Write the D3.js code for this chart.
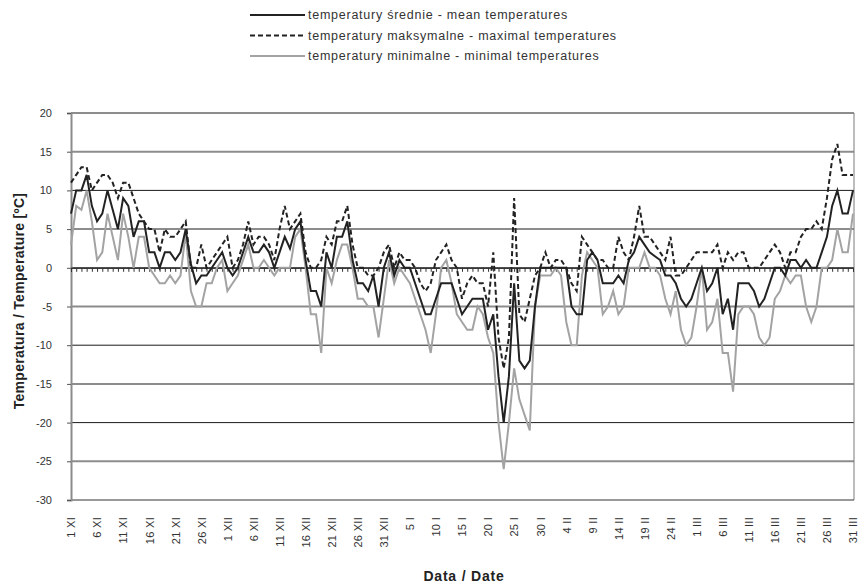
<!DOCTYPE html>
<html>
<head>
<meta charset="utf-8">
<script src="https://cdn.jsdelivr.net/npm/d3@7"></script>
<style>
  body { margin: 0; background: #fff; }
  svg { font-family: "Liberation Sans", Arial, sans-serif; }
</style>
</head>
<body>
<svg width="861" height="584"></svg>
<script>
// daily values, 1 XI .. 31 III (151 days)
const meanTemps = [
  7, 10, 10, 12, 8, 6, 7, 10, 7.5, 5,
  9, 8, 4, 6, 6, 2, 2, 0, 2, 2,
  1, 2, 5, 0.5, -2, -1, -1, 0, 1, 2,
  0, -1, 0, 2, 4, 2, 2, 3, 2, 0,
  2, 4, 2.5, 5, 6, 1, -3, -3, -5, 2,
  0, 4, 4, 6, 1, -2, -2, -3, -1, -5,
  0, 2, -1, 1, 0, 0, -2, -4, -6, -6,
  -4, -2, -2, -2, -4, -6, -5, -4, -4, -4,
  -8, -6, -14, -20, -14, -2, -12, -13, -12, -5,
  0, 0, 0, 0, 0, 0, -5, -6, -6, 1,
  2, 1, -2, -2, -2, -1, -2, 1, 2, 4,
  3, 2, 1.5, 1, -1, -1, -2, -4, -5, -4,
  -2, 0, -3, -2, 0, -6, -4, -8, -2, -2,
  -2, -3, -5, -4, -2, 0, 0, -1, 1, 1,
  0, 1, 0, 0, 2, 4, 8, 10, 7, 7, 10
];
const maxTemps = [
  11, 12, 13, 13, 10, 11, 12, 12, 11, 9,
  11, 11, 9, 7, 6, 5, 5, 2, 5, 4,
  4, 5, 6, 0, 0, 3, 0, 1, 2, 3,
  4, 0, 1, 3, 6, 3, 4, 4, 3, 1,
  5, 8, 5, 6, 7, 2, 0, 0, 1, 4,
  3, 6, 6, 8, 3, 0, 0, -1, -1, 0,
  2, 3, 0, 2, 1, 1, 0, -2, -3, -2,
  1, 2, 3, 1, 0, -4, -2, -1, -2, -2,
  -5, 2, -9, -13, -9, 9, -6, -7, -4, -1,
  0, 2, 0, 1, 1, 0, -2, -3, 4, 3,
  2, 1, 1, 0, 0, 4, 2, 1, 4, 8,
  4, 4, 3, 2, 1, 4, -1, -1, 0, 1,
  2, 2, 2, 2, 3, 0, 2, 1, 2, 2,
  0, 0, 0, 1, 2, 3, 2, 0, 2, 2,
  4, 5, 5, 6, 5, 9, 14, 16, 12, 12, 12
];
const minTemps = [
  3, 8, 7.5, 10, 6, 1, 2, 7, 4, 1,
  7, 4, 0, 4, 4, 0, -1, -2, -2, -1,
  -2, -1, 4.5, -3, -5, -5, -2, -2, 0, 1,
  -3, -2, -1, 1, 3, 0, 0, 1, 0, -1,
  0, 0, 0, 4, 5, 0, -6, -6, -11, 0,
  -2, 1, 3, 3, 0, -4, -4, -5, -5, -9,
  -4, 1, -2, 0, -1, -2, -4, -6, -8, -11,
  -6, 0, 1, -2, -6, -7, -8, -8, -5, -6,
  -9, -11, -20, -26, -20, -13, -17, -19, -21, -5,
  -1, -1, -1, 0, -1, -7, -10, -10, -1, 2,
  1, 0, -6, -5, -3, -6, -5, 0, 0, 0,
  2, 0, 0, -1, -4, -6, -3, -8, -10, -9,
  -5, 0, -8, -7, -4, -11, -11, -16, -6, -5,
  -5, -6, -9, -10, -9, -4, -3, -1, -2, -1,
  -1, -5, -7, -5, 0, 0, 1, 5, 2, 2, 7
];
const dateLabels = ["1 XI", "6 XI", "11 XI", "16 XI", "21 XI", "26 XI", "1 XII", "6 XII",
  "11 XII", "16 XII", "21 XII", "26 XII", "31 XII", "5 I", "10 I", "15 I", "20 I", "25 I",
  "30 I", "4 II", "9 II", "14 II", "19 II", "24 II", "1 III", "6 III", "11 III", "16 III",
  "21 III", "26 III", "31 III"];
const yTicks = [20, 15, 10, 5, 0, -5, -10, -15, -20, -25, -30];
const legendNames = [
  "temperatury średnie - mean temperatures",
  "temperatury maksymalne - maximal temperatures",
  "temperatury minimalne - minimal temperatures"
];

const svg = d3.select("svg");
const plotLeft = 71, plotRight = 853, plotTop = 113, plotBottom = 500;

const x = d3.scaleLinear().domain([0, meanTemps.length - 1]).range([plotLeft, plotRight]);
const y = d3.scaleLinear().domain([-30, 20]).range([plotBottom, plotTop]);

// gridlines: black on tens, grey on fives
svg.append("g").selectAll("line")
  .data(yTicks.filter(d => d > -30))
  .join("line")
  .attr("x1", plotLeft).attr("x2", plotRight + 1)
  .attr("y1", d => y(d)).attr("y2", d => y(d))
  .attr("stroke", d => d % 10 === 0 ? "#1a1a1a" : "#8c8c8c")
  .attr("stroke-width", d => d % 10 === 0 ? 1 : 2);

// frame
svg.append("line").attr("x1", plotRight + 1).attr("x2", plotRight + 1).attr("y1", plotTop).attr("y2", plotBottom)
  .attr("stroke", "#7a7a7a").attr("stroke-width", 1);
svg.append("line").attr("x1", plotLeft).attr("x2", plotRight + 1).attr("y1", plotBottom).attr("y2", plotBottom)
  .attr("stroke", "#333").attr("stroke-width", 1);

// y axis (plain hyphen for minus, as in the original)
const yAxis = svg.append("g")
  .attr("transform", `translate(${plotLeft},0)`)
  .call(d3.axisLeft(y).tickValues(yTicks).tickSize(4).tickPadding(15).tickFormat(d => String(d)));
yAxis.select(".domain").attr("stroke", "#8c8c8c").attr("stroke-width", 2);
yAxis.selectAll(".tick line").attr("stroke", "#555");
yAxis.selectAll("text").attr("font-size", 11).attr("fill", "#333")
  .attr("font-family", "Liberation Sans, Arial, sans-serif");

// category ticks on zero line
const zeroAxis = svg.append("g")
  .attr("transform", `translate(0,${y(0)})`)
  .call(d3.axisBottom(x).tickValues(d3.range(meanTemps.length)).tickSize(4).tickFormat(""));
zeroAxis.select(".domain").attr("stroke", "#1a1a1a");
zeroAxis.selectAll(".tick line").attr("stroke", "#333");

// date labels below the plot
const labelAxis = svg.append("g")
  .attr("transform", `translate(0,${plotBottom})`)
  .call(d3.axisBottom(x).tickValues(d3.range(0, meanTemps.length, 5)).tickSize(0)
    .tickFormat((d, i) => dateLabels[i]));
labelAxis.select(".domain").remove();
labelAxis.selectAll("text")
  .attr("font-size", 11).attr("fill", "#333")
  .attr("font-family", "Liberation Sans, Arial, sans-serif")
  .attr("letter-spacing", 0.3)
  .attr("transform", "rotate(-90)")
  .attr("text-anchor", "end")
  .attr("x", -17).attr("y", 0).attr("dy", "0.35em");

// series
const series = [
  {values: minTemps, color: "#a3a3a3", dash: null, width: 2},
  {values: maxTemps, color: "#222", dash: "5,3", width: 2},
  {values: meanTemps, color: "#222", dash: null, width: 2}
];
const line = d3.line().x((d, i) => x(i)).y(d => y(d));
svg.append("g").selectAll("path")
  .data(series)
  .join("path")
  .attr("fill", "none")
  .attr("stroke", d => d.color)
  .attr("stroke-width", d => d.width)
  .attr("stroke-dasharray", d => d.dash)
  .attr("stroke-linejoin", "miter")
  .attr("d", d => line(d.values));

// legend
const legendStyles = [
  {color: "#222", dash: null, width: 2},
  {color: "#222", dash: "5,3", width: 2},
  {color: "#a3a3a3", dash: null, width: 2}
];
const legend = svg.append("g").selectAll("g")
  .data(legendNames)
  .join("g")
  .attr("transform", (d, i) => `translate(250,${15 + i * 20.5})`);
legend.append("line")
  .attr("x1", 0).attr("x2", 55)
  .attr("stroke", (d, i) => legendStyles[i].color)
  .attr("stroke-width", (d, i) => legendStyles[i].width)
  .attr("stroke-dasharray", (d, i) => legendStyles[i].dash);
legend.append("text")
  .attr("x", 58).attr("dy", "0.35em")
  .attr("font-size", 12.5).attr("fill", "#333")
  .attr("letter-spacing", 0.75)
  .text(d => d);

// axis titles
svg.append("text")
  .attr("transform", "translate(24,301) rotate(-90)")
  .attr("text-anchor", "middle")
  .attr("font-size", 14).attr("font-weight", "bold").attr("fill", "#222")
  .attr("letter-spacing", 0.3)
  .text("Temperatura / Temperature [ºC]");
svg.append("text")
  .attr("x", 464).attr("y", 581)
  .attr("text-anchor", "middle")
  .attr("font-size", 14).attr("font-weight", "bold").attr("fill", "#222")
  .attr("letter-spacing", 0.8)
  .text("Data / Date");
</script>
</body>
</html>
